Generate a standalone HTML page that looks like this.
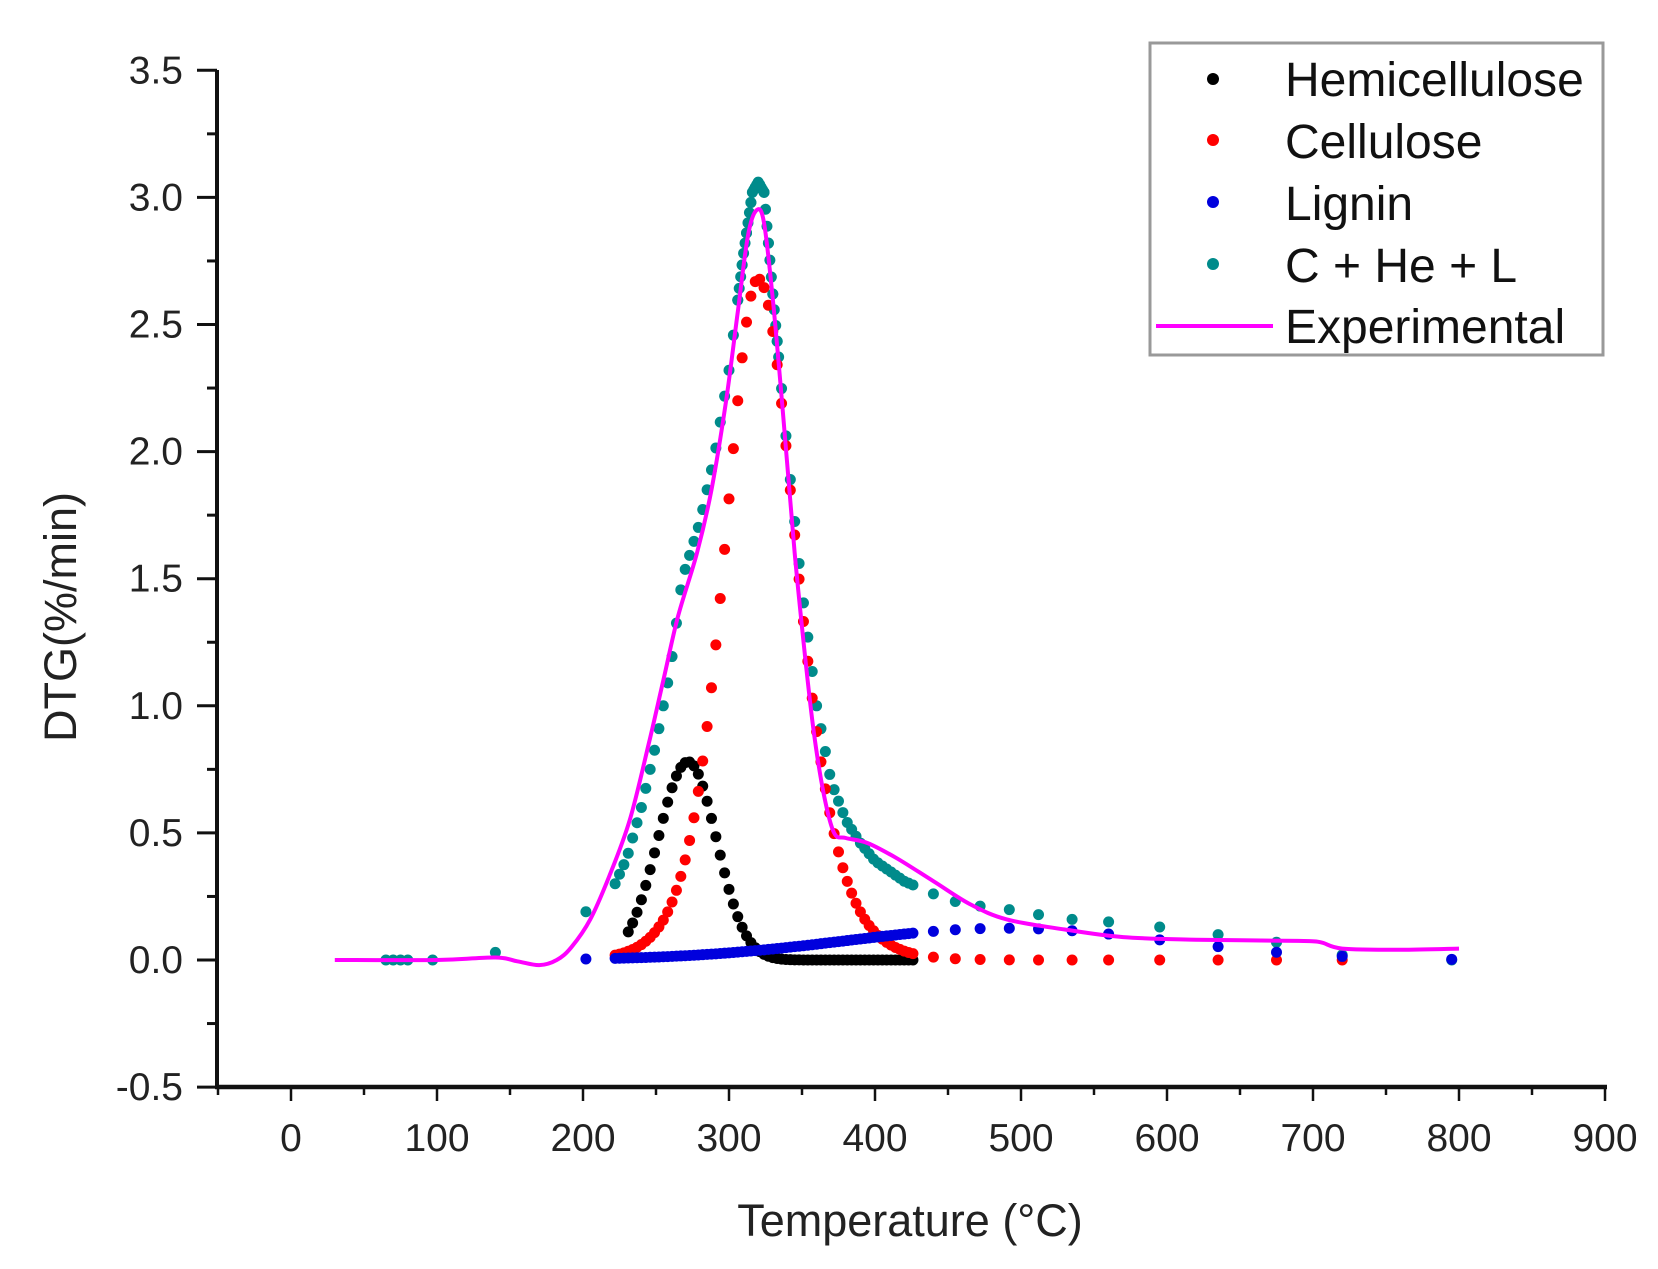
<!DOCTYPE html>
<html><head><meta charset="utf-8"><style>
html,body{margin:0;padding:0;background:#fff;}
svg{display:block;font-family:"Liberation Sans",Arial,sans-serif;}
</style></head><body>
<svg id="s" width="1658" height="1269" viewBox="0 0 1658 1269" xmlns="http://www.w3.org/2000/svg">
<rect width="1658" height="1269" fill="#fff"/>
<g id="plot"></g>
<g id="axes" stroke="#111" fill="none"></g>
<g id="lab" fill="#222"></g>
<text x="910" y="1236" font-size="45" text-anchor="middle" fill="#222">Temperature (°C)</text>
<text transform="translate(76,617) rotate(-90)" font-size="45" text-anchor="middle" fill="#222">DTG(%/min)</text>
<rect x="1150" y="43" width="453" height="312" fill="#fff" stroke="#999" stroke-width="3"/>
<circle cx="1213" cy="79" r="6" fill="#000"/>
<circle cx="1213" cy="140" r="6" fill="#f00"/>
<circle cx="1213" cy="202" r="6" fill="#00d"/>
<circle cx="1213" cy="264" r="6" fill="#008b8b"/>
<line x1="1156" y1="326" x2="1273" y2="326" stroke="#f0f" stroke-width="4"/>
<g font-size="48" fill="#111">
<text x="1285" y="96">Hemicellulose</text>
<text x="1285" y="158">Cellulose</text>
<text x="1285" y="220">Lignin</text>
<text x="1285" y="282">C + He + L</text>
<text x="1285" y="343">Experimental</text>
</g>
</svg>
<script>
const NS="http://www.w3.org/2000/svg";
const X=t=>291+1.46*t, Y=v=>960-254.2*v;
const ax=document.getElementById('axes'), lab=document.getElementById('lab'), plot=document.getElementById('plot');
function el(p,n,a){const e=document.createElementNS(NS,n);for(const k in a)e.setAttribute(k,a[k]);p.appendChild(e);return e;}
el(ax,'line',{x1:217,y1:70,x2:217,y2:1089,'stroke-width':4});
el(ax,'line',{x1:215,y1:1087,x2:1607,y2:1087,'stroke-width':4.5});
for(let i=0;i<=16;i++){const v=3.5-i*0.25,y=Y(v),maj=i%2==0;
 el(ax,'line',{x1:maj?197:207,y1:y,x2:217,y2:y,'stroke-width':3});
 if(maj){const t=el(lab,'text',{x:183,y:y+13,'font-size':39,'text-anchor':'end'});t.textContent=v.toFixed(1);}}
for(let i=-1;i<=18;i++){const t=i*50,x=X(t),maj=i%2==0;if(x<218)continue;
 el(ax,'line',{x1:x,y1:1087,x2:x,y2:maj?1101:1095,'stroke-width':2.5});
 if(maj){const e=el(lab,'text',{x:x,y:1151,'font-size':39,'text-anchor':'middle'});e.textContent=t;}}
const sech2=x=>{const c=Math.cosh(x);return 1/(c*c);};
const hemi=T=>T<228?0:0.78*Math.exp(-Math.pow(T-272,2)/(2*(T<272?430:380)));
const cell=T=>T<220?0:2.68*sech2((T-320)/(T<320?31:35));
const lig=T=>T<200?0:0.125*Math.exp(-Math.pow(T-490,2)/24200);
function interp(tab,T){if(T<=tab[0][0])return tab[0][1];for(let i=1;i<tab.length;i++){if(T<=tab[i][0]){const a=tab[i-1],b=tab[i];return a[1]+(b[1]-a[1])*(T-a[0])/(b[0]-a[0]);}}return tab[tab.length-1][1];}
const tealTab=[[60,0],[100,0],[140,0.03],[202,0.19],[222,0.3],[230,0.4],[240,0.6],[250,0.85],[260,1.15],[268,1.5],[280,1.72],[290,1.98],[300,2.32],[310,2.78],[316,3.02],[320,3.06],[324,3.02],[330,2.62],[340,2.0],[350,1.45],[360,1.0],[370,0.7],[380,0.55],[390,0.46],[400,0.39],[420,0.31],[440,0.26],[460,0.22],[490,0.2],[510,0.18],[535,0.16],[560,0.15],[595,0.13],[635,0.1],[675,0.07],[720,0.02],[795,0]];
let dense=[];for(let T=222;T<=426;T+=3)dense.push(T);
let tdense=[];for(let T=222;T<=426;T+=3)tdense.push(T);for(let T=306;T<=334;T+=1)tdense.push(T);
const sparse=[440,455,472,492,512,535,560,595,635,675,720,795];
const early=[65,70,75,80,97,140,202];
function dots(Ts,f,col){for(const T of Ts)el(plot,'circle',{cx:X(T),cy:Y(f(T)),r:5.5,fill:col});}
dots([...early,...tdense,...sparse],T=>interp(tealTab,T),'#008b8b');
dots(dense.filter(T=>T>=230),hemi,'#000');
dots([...dense,...sparse.filter(T=>T<=720)],cell,'#f00');
dots([202,...dense,...sparse],lig,'#00d');
const ex=[[30,0],[100,0],[140,0.01],[155,-0.005],[170,-0.02],[182,0.0],[192,0.05],[205,0.16],[218,0.33],[232,0.55],[245,0.85],[255,1.1],[265,1.35],[278,1.6],[288,1.85],[298,2.2],[306,2.55],[313,2.85],[319,2.95],[324,2.9],[330,2.6],[337,2.15],[345,1.6],[352,1.2],[358,0.9],[365,0.65],[372,0.5],[380,0.48],[395,0.46],[415,0.4],[440,0.31],[465,0.22],[490,0.16],[530,0.12],[570,0.09],[620,0.08],[690,0.075],[705,0.07],[720,0.045],[760,0.04],[800,0.045]];
const P=ex.map(p=>[X(p[0]),Y(p[1])]);
let d='M'+P[0][0].toFixed(1)+','+P[0][1].toFixed(1);
for(let i=0;i<P.length-1;i++){const p0=P[Math.max(0,i-1)],p1=P[i],p2=P[i+1],p3=P[Math.min(P.length-1,i+2)];
 const c1=[p1[0]+(p2[0]-p0[0])/6,p1[1]+(p2[1]-p0[1])/6],c2=[p2[0]-(p3[0]-p1[0])/6,p2[1]-(p3[1]-p1[1])/6];
 d+='C'+c1[0].toFixed(1)+','+c1[1].toFixed(1)+' '+c2[0].toFixed(1)+','+c2[1].toFixed(1)+' '+p2[0].toFixed(1)+','+p2[1].toFixed(1);}
el(plot,'path',{d:d,stroke:'#f0f','stroke-width':4,fill:'none','stroke-linejoin':'round'});
</script>
</body></html>
